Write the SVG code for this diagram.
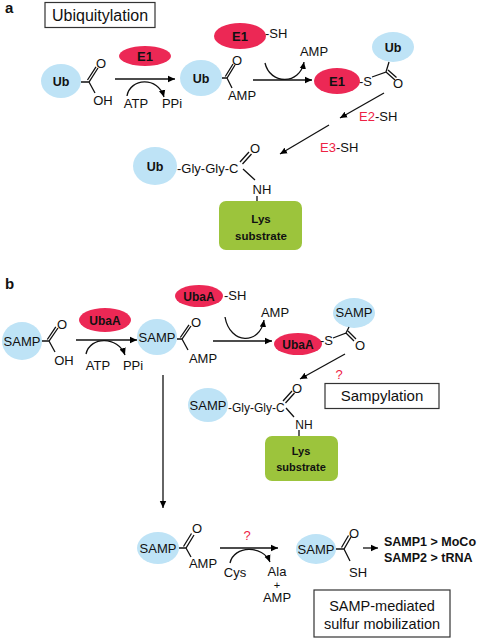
<svg xmlns="http://www.w3.org/2000/svg" width="481" height="639" viewBox="0 0 481 639">
<defs>
<marker id="ah" markerWidth="8" markerHeight="8" refX="7" refY="4" orient="auto" markerUnits="userSpaceOnUse">
<path d="M0,0.8 L7,4 L0,7.2 Z" fill="#000"/>
</marker>
<style>
.t{font-family:"Liberation Sans",Arial,sans-serif;font-size:13px;fill:#111}
.b{font-weight:bold}
.c{text-anchor:middle}
.ub{fill:#bee3f6}
.e{fill:#ec2855}
.g{fill:#9cc43c}
.bd{stroke:#111;stroke-width:1.3;fill:none}
.ar{stroke:#111;stroke-width:1.3;fill:none;marker-end:url(#ah)}
.box{fill:#fff;stroke:#333;stroke-width:1.2}
.red{fill:#ee2244}
</style>
</defs>
<rect width="481" height="639" fill="#fff"/>

<text class="t b" x="5" y="13" style="font-size:15px">a</text>
<text class="t b" x="5" y="289" style="font-size:15px">b</text>

<g id="title-ubiquitylation">
<rect class="box" x="45" y="2.5" width="110" height="25"/>
<text class="t c" x="100" y="20.5" style="font-size:16px">Ubiquitylation</text>
</g>

<!-- Panel a -->
<g id="a-ub-cooh">
<ellipse class="ub" cx="61" cy="81" rx="20" ry="17"/>
<text class="t b c" x="61" y="86" style="font-size:12.5px">Ub</text>
<path class="bd" d="M81,82 L89,82 L98,68 M87.5,80 L96,66.8 M89,82 L95,93"/>
<text class="t c" x="101" y="68">O</text>
<text class="t c" x="103" y="105">OH</text>
</g>

<g id="a-e1-1">
<ellipse class="e" cx="145" cy="56" rx="26" ry="10"/>
<text class="t b c" x="145" y="61">E1</text>
</g>
<text class="t c" x="136" y="108">ATP</text>
<text class="t c" x="172" y="108">PPi</text>

<g id="a-ub-amp">
<ellipse class="ub" cx="201" cy="78" rx="21" ry="18"/>
<text class="t b c" x="201" y="83" style="font-size:12.5px">Ub</text>
<path class="bd" d="M222,78 L227,78 L235,65 M225.3,76.5 L233,64 M227,78 L232,88"/>
<text class="t c" x="237" y="65">O</text>
<text class="t c" x="242" y="100">AMP</text>
</g>

<g id="a-e1-sh">
<ellipse class="e" cx="240" cy="36" rx="26" ry="13"/>
<text class="t b c" x="240" y="41">E1</text>
<text class="t" x="265" y="38">-SH</text>
</g>
<text class="t c" x="314" y="56">AMP</text>

<g id="a-e1-s-ub">
<ellipse class="e" cx="337" cy="81" rx="23" ry="13"/>
<text class="t b c" x="337" y="86">E1</text>
<text class="t" x="359" y="86">-S</text>
<ellipse class="ub" cx="393" cy="47" rx="21" ry="15"/>
<text class="t b c" x="393" y="52" style="font-size:12.5px">Ub</text>
<path class="bd" d="M372,77 L386,72 L389,62 M386,72 L395,80 M388,70 L396.5,77.5"/>
<text class="t c" x="398" y="88">O</text>
</g>

<text class="t" x="359" y="121"><tspan class="red">E2</tspan>-SH</text>
<text class="t" x="320" y="152"><tspan class="red">E3</tspan>-SH</text>

<g id="a-product">
<ellipse class="ub" cx="155" cy="166" rx="22" ry="19"/>
<text class="t b c" x="155" y="171" style="font-size:12.5px">Ub</text>
<text class="t" x="177" y="173">-Gly-Gly-C</text>
<path class="bd" d="M240,162 L249,152 M242.5,164 L251.5,154 M243,169 L255,180 M257,196 L257,201"/>
<text class="t c" x="255" y="153">O</text>
<text class="t c" x="262" y="194">NH</text>
<rect class="g" x="219" y="201" width="83" height="49" rx="7"/>
<text class="t b c" x="261" y="223" style="font-size:11.5px">Lys</text>
<text class="t b c" x="261" y="240" style="font-size:11.5px">substrate</text>
</g>

<!-- Panel b -->
<g id="b-samp-cooh">
<ellipse class="ub" cx="22" cy="341" rx="20" ry="19"/>
<text class="t c" x="22" y="346">SAMP</text>
<path class="bd" d="M42,341 L49,341 L58,328 M47.3,339.5 L55.8,326.8 M49,341 L55,352"/>
<text class="t c" x="62" y="329">O</text>
<text class="t c" x="64" y="365">OH</text>
</g>

<g id="b-ubaa-1">
<ellipse class="e" cx="105" cy="320" rx="26" ry="12"/>
<text class="t b c" x="105" y="325" style="font-size:12px">UbaA</text>
</g>
<text class="t c" x="98" y="370">ATP</text>
<text class="t c" x="133" y="370">PPi</text>

<g id="b-samp-amp">
<ellipse class="ub" cx="157" cy="337" rx="20" ry="18"/>
<text class="t c" x="157" y="342">SAMP</text>
<path class="bd" d="M177,339 L182,339 L191,326 M180.3,337.5 L189,324.8 M182,339 L188,350"/>
<text class="t c" x="196" y="327">O</text>
<text class="t c" x="203" y="363">AMP</text>
</g>

<g id="b-ubaa-sh">
<ellipse class="e" cx="199" cy="296" rx="24" ry="11"/>
<text class="t b c" x="199" y="300.5" style="font-size:12px">UbaA</text>
<text class="t" x="224" y="300">-SH</text>
</g>
<text class="t c" x="275" y="317">AMP</text>

<g id="b-ubaa-s-samp">
<ellipse class="e" cx="298" cy="344" rx="24" ry="11"/>
<text class="t b c" x="298" y="348.5" style="font-size:12px">UbaA</text>
<text class="t" x="320" y="345">-S</text>
<ellipse class="ub" cx="354" cy="313" rx="21" ry="15"/>
<text class="t c" x="354" y="317">SAMP</text>
<path class="bd" d="M333,338 L346,333 L349,327 M346,333 L354,341 M348,331 L356,339"/>
<text class="t c" x="360" y="350">O</text>
</g>

<text class="t red c" x="339" y="379">?</text>

<g id="title-sampylation">
<rect class="box" x="325" y="383.5" width="114" height="25"/>
<text class="t c" x="382" y="401" style="font-size:15px">Sampylation</text>
</g>

<g id="b-product">
<ellipse class="ub" cx="208" cy="405" rx="20" ry="17"/>
<text class="t c" x="208" y="410">SAMP</text>
<text class="t" x="228" y="412" style="font-size:12px">-Gly-Gly-C</text>
<path class="bd" d="M283,401 L292,391 M285.5,403 L294.5,393 M286,408 L294,417 M299,430 L299,436"/>
<text class="t c" x="297" y="393">O</text>
<text class="t c" x="304" y="429" style="font-size:12px">NH</text>
<rect class="g" x="265" y="436" width="73" height="45" rx="7"/>
<text class="t b c" x="301" y="455" style="font-size:11px">Lys</text>
<text class="t b c" x="301" y="471" style="font-size:11px">substrate</text>
</g>

<g id="b-samp-amp-2">
<ellipse class="ub" cx="158" cy="548" rx="21" ry="16"/>
<text class="t c" x="158" y="553">SAMP</text>
<path class="bd" d="M179,548 L186,548 L194,535 M183.5,546.5 L191.5,533.5 M186,548 L191,557"/>
<text class="t c" x="197" y="533">O</text>
<text class="t c" x="203" y="568">AMP</text>
</g>

<text class="t red c" x="247" y="540">?</text>
<text class="t c" x="235" y="577">Cys</text>
<text class="t c" x="277" y="576">Ala</text>
<text class="t c" x="277" y="588.5" style="font-size:11px">+</text>
<text class="t c" x="277" y="601.5">AMP</text>

<g id="b-samp-sh">
<ellipse class="ub" cx="316" cy="549" rx="20" ry="15"/>
<text class="t c" x="316" y="554">SAMP</text>
<path class="bd" d="M336,549 L344,549 L351,537 M341.5,547.5 L348.5,535.5 M344,549 L350,561"/>
<text class="t c" x="354" y="538">O</text>
<text class="t c" x="358" y="577">SH</text>
</g>

<g id="b-targets">
<text class="t b" x="384" y="546" style="font-size:12.5px">SAMP1 &gt; MoCo</text>
<text class="t b" x="384" y="562" style="font-size:12.5px">SAMP2 &gt; tRNA</text>
</g>

<g id="title-sulfur">
<rect class="box" x="314" y="590" width="136" height="47"/>
<text class="t c" x="382" y="611" style="font-size:14.5px">SAMP-mediated</text>
<text class="t c" x="382" y="629" style="font-size:14.5px">sulfur mobilization</text>
</g>

<g id="connectors">
<!-- panel a -->
<path class="ar" d="M115,79 L175,79"/>
<path class="ar" d="M127,96 C130,78 158,76 164,97"/>
<path class="ar" d="M253,80 L312,80"/>
<path class="ar" d="M265,63 C270,85 300,85 304,62"/>
<path class="ar" d="M384,93 L340,118"/>
<path class="ar" d="M329,125 L280,154"/>
<!-- panel b -->
<path class="ar" d="M76,340 L137,340"/>
<path class="ar" d="M86,354 C90,336 118,336 125,355"/>
<path class="ar" d="M213,341 L272,341"/>
<path class="ar" d="M225,317 C230,345 260,345 264,320"/>
<path class="ar" d="M345,354 L300,379"/>
<path class="ar" d="M163,375 L163,508"/>
<path class="ar" d="M220,548 L278,548"/>
<path class="ar" d="M230,563 C234,545 263,545 270,562"/>
<path class="ar" d="M363,548 L378,548"/>
</g>
</svg>
